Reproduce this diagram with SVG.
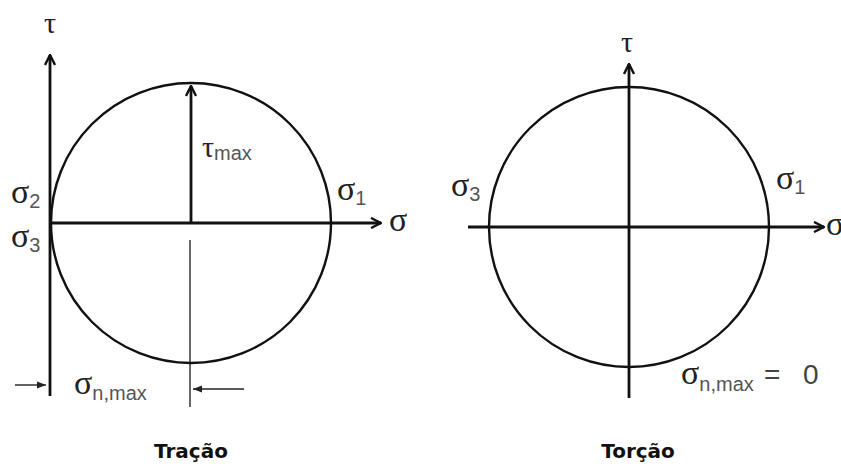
<svg xmlns="http://www.w3.org/2000/svg" width="841" height="466" viewBox="0 0 841 466">
<defs>
<style>
.ax{stroke:#111;stroke-width:2.8;fill:none}
.circ{stroke:#111;stroke-width:2.4;fill:none}
.thin{stroke:#222;stroke-width:1.4;fill:none}
.gray{stroke:#666;stroke-width:2;fill:none}
.lbl{font-family:"Liberation Serif","Times New Roman",serif;fill:#222}
.big{font-size:30px}
.sg{font-size:34px}
.sub{font-family:"Liberation Sans",Arial,sans-serif;font-size:20px;fill:#555}
.eq{font-family:"Liberation Sans",Arial,sans-serif;font-size:28px;fill:#444}
.ttl{font-family:"DejaVu Sans",Roboto,sans-serif;font-weight:bold;font-size:20px;fill:#111;text-anchor:middle}
</style>
<marker id="open" viewBox="0 0 12 12" refX="11" refY="6" markerWidth="12" markerHeight="12" markerUnits="userSpaceOnUse" orient="auto">
<path d="M1,1 L11,6 L1,11" fill="none" stroke="#111" stroke-width="2.4"/>
</marker>
<marker id="small" viewBox="0 0 10 10" refX="10" refY="5" markerWidth="9" markerHeight="9" markerUnits="userSpaceOnUse" orient="auto">
<path d="M0,1 L10,5 L0,9 Z" fill="#222"/>
</marker>
</defs>
<rect width="841" height="466" fill="#fff"/>
<g id="tracao">
<g id="connectors-left">
<line class="ax" x1="50" y1="396" x2="50" y2="55" marker-end="url(#open)"/>
<line class="ax" x1="50" y1="223" x2="381" y2="223" marker-end="url(#open)"/>
<line class="ax" x1="191" y1="223" x2="191" y2="86" marker-end="url(#open)"/>
<line class="gray" x1="190" y1="240" x2="190" y2="407"/>
<line class="thin" x1="15" y1="385" x2="46" y2="385" marker-end="url(#small)"/>
<line class="thin" x1="244" y1="389" x2="193" y2="389" marker-end="url(#small)"/>
</g>
<circle id="mohr-left" class="circ" cx="191" cy="223" r="140"/>
<text class="lbl big" x="44" y="33">τ</text>
<text class="lbl big" x="202" y="157">τ<tspan class="sub" dy="3" font-size="22">max</tspan></text>
<text class="lbl sg" x="11" y="203">σ<tspan class="sub" dy="5">2</tspan></text>
<text class="lbl sg" x="11" y="247">σ<tspan class="sub" dy="5">3</tspan></text>
<text class="lbl sg" x="337" y="200">σ<tspan class="sub" dy="5">1</tspan></text>
<text class="lbl sg" x="389" y="231">σ</text>
<text class="lbl sg" x="74" y="394">σ<tspan class="sub" dy="6" font-size="21">n,max</tspan></text>
<text class="ttl" x="191" y="458">Tração</text>
</g>
<g id="torcao">
<g id="connectors-right">
<line class="ax" x1="629" y1="398" x2="629" y2="64" marker-end="url(#open)"/>
<line class="ax" x1="468" y1="227" x2="824" y2="227" marker-end="url(#open)"/>
</g>
<circle id="mohr-right" class="circ" cx="629" cy="227" r="140"/>
<text class="lbl big" x="621" y="52">τ</text>
<text class="lbl sg" x="451" y="196">σ<tspan class="sub" dy="5">3</tspan></text>
<text class="lbl sg" x="776" y="189">σ<tspan class="sub" dy="5">1</tspan></text>
<text class="lbl sg" x="826" y="235">σ</text>
<text class="lbl sg" x="681" y="384">σ<tspan class="sub" dy="7" font-size="21">n,max</tspan></text>
<text class="eq" x="764" y="384" font-size="36">=</text>
<text class="eq" x="803" y="384">0</text>
<text class="ttl" x="638" y="458">Torção</text>
</g>
</svg>
